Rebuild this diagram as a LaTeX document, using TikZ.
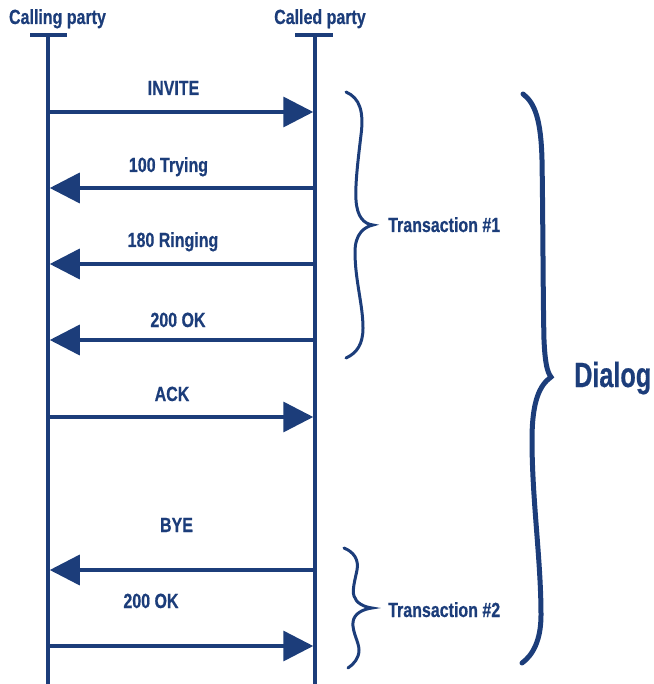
\documentclass[tikz,border=0pt]{standalone}
\usepackage{fontspec}
\newfontfamily\labfont[FakeStretch=0.78,BoldFeatures={FakeBold=0.6}]{Liberation Sans}
\newfontfamily\bigfont[FakeStretch=0.72,BoldFeatures={FakeBold=0.6}]{Liberation Sans}
\usetikzlibrary{arrows.meta}
\definecolor{navy}{RGB}{28,61,122}
\begin{document}
\begin{tikzpicture}[x=1pt,y=-1pt,
  lifeline/.style={draw=navy,line width=3.5pt},
  msg/.style={draw=navy,line width=3.5pt,-{Triangle[length=30pt,width=30pt]},shorten >=1.75pt},
  lab/.style={inner sep=0pt,text=navy,font=\labfont\bfseries\fontsize{20.5}{20.5}\selectfont},
  bigtext/.style={inner sep=0pt,text=navy,font=\bigfont\bfseries\fontsize{35}{35}\selectfont},
  bracepath/.style={draw=navy,line width=3pt,line cap=round},
  bigbrace/.style={draw=navy,line width=5pt,line cap=round}]
\useasboundingbox (0,0) rectangle (653,684);

% header labels
\node[lab,anchor=base] (calling) at (57.5,24) {Calling party};
\node[lab,anchor=base] (called) at (320,24) {Called party};

% lifelines
\coordinate (Ltop) at (48,35);
\coordinate (Lbot) at (48,684);
\coordinate (Rtop) at (315,35);
\coordinate (Rbot) at (315,684);
\coordinate (Lbarl) at (30,35);
\coordinate (Lbarr) at (67,35);
\coordinate (Rbarl) at (295,35);
\coordinate (Rbarr) at (333,35);
\draw[lifeline] (Ltop) -- (Lbot);
\draw[lifeline] (Rtop) -- (Rbot);
\draw[lifeline] (Lbarl) -- (Lbarr);
\draw[lifeline] (Rbarl) -- (Rbarr);

% message endpoints
\foreach \n/\y in {m1/112,m2/188,m3/264,m4/340,m5/417,m6/570,m7/646}{
  \coordinate (\n L) at (48,\y);
  \coordinate (\n R) at (315,\y);
}

% messages
\draw[msg] (m1L) -- (m1R);
\node[lab,anchor=base] (invite) at (173.5,95) {INVITE};
\draw[msg] (m2R) -- (m2L);
\node[lab,anchor=base] (trying) at (168.5,172) {100 Trying};
\draw[msg] (m3R) -- (m3L);
\node[lab,anchor=base] (ringing) at (173,247) {180 Ringing};
\draw[msg] (m4R) -- (m4L);
\node[lab,anchor=base] (ok1) at (178,327) {200 OK};
\draw[msg] (m5L) -- (m5R);
\node[lab,anchor=base] (ack) at (172,401) {ACK};
\node[lab,anchor=base] (bye) at (176.5,532) {BYE};
\draw[msg] (m6R) -- (m6L);
\node[lab,anchor=base] (ok2) at (151,608) {200 OK};
\draw[msg] (m7L) -- (m7R);

% Transaction #1 brace
\draw[bracepath] (346,92) .. controls (360,98) and (364,112) .. (361,135)
  .. controls (358,160) and (355,185) .. (356,200)
  .. controls (357,217) and (364,224) .. (373,225)
  .. controls (364,227) and (355,234) .. (355,252)
  .. controls (355,280) and (363,305) .. (363,328)
  .. controls (363,344) and (357,353) .. (346,358);
\node[lab,anchor=base west] (t1) at (388,232) {Transaction \#1};

% Transaction #2 brace
\draw[bracepath] (344,548) .. controls (354,552) and (359,560) .. (357,570)
  .. controls (355,580) and (352,590) .. (354,596)
  .. controls (356,603) and (364,607) .. (372,608)
  .. controls (364,609) and (354,613) .. (353,622)
  .. controls (352,632) and (359,642) .. (359,650)
  .. controls (359,658) and (354,664) .. (348,668);
\node[lab,anchor=base west] (t2) at (388,617) {Transaction \#2};

% Dialog brace
\draw[bigbrace] (523,94) .. controls (535,103) and (541,120) .. (542,160)
  .. controls (543,220) and (543,300) .. (544,340)
  .. controls (545,362) and (547,372) .. (551,377)
  .. controls (540,385) and (532,400) .. (532,440)
  .. controls (532,500) and (541,560) .. (541,615)
  .. controls (541,640) and (533,655) .. (522,663);
\node[bigtext,anchor=base west] (dialog) at (574,387) {Dialog};
\end{tikzpicture}
\end{document}
